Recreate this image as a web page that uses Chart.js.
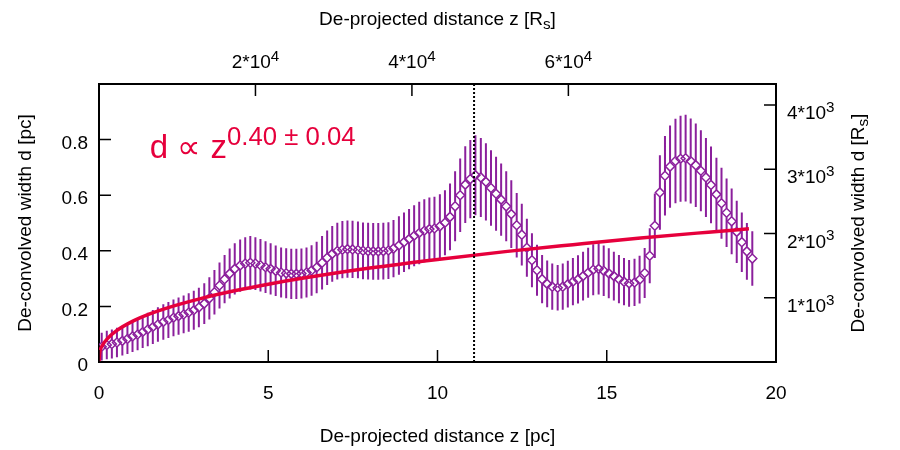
<!DOCTYPE html>
<html>
<head>
<meta charset="utf-8">
<script src="https://cdn.jsdelivr.net/npm/chart.js@4.4.0/dist/chart.umd.min.js"></script>
<style>
  html, body { margin: 0; padding: 0; background: #fff; }
  #wrap { width: 900px; height: 450px; }
</style>
</head>
<body>
<div id="wrap"><canvas id="chart"></canvas></div>
<script>
// ── Data ───────────────────────────────────────────────────
// de-projected distance z [pc]
const zPc = [
  0.08, 0.23, 0.38, 0.53, 0.69, 0.84, 0.99, 1.14, 1.29, 1.44,
  1.59, 1.74, 1.90, 2.05, 2.20, 2.35, 2.50, 2.65, 2.80, 2.95,
  3.11, 3.26, 3.41, 3.56, 3.71, 3.86, 4.01, 4.17, 4.32, 4.47,
  4.62, 4.77, 4.92, 5.07, 5.22, 5.38, 5.53, 5.68, 5.83, 5.98,
  6.13, 6.28, 6.43, 6.59, 6.74, 6.89, 7.04, 7.19, 7.34, 7.49,
  7.65, 7.80, 7.95, 8.10, 8.25, 8.40, 8.55, 8.70, 8.86, 9.01,
  9.16, 9.31, 9.46, 9.61, 9.76, 9.91, 10.07, 10.22, 10.37, 10.52,
  10.67, 10.82, 10.97, 11.12, 11.28, 11.43, 11.58, 11.73, 11.88, 12.03,
  12.18, 12.34, 12.49, 12.64, 12.79, 12.94, 13.09, 13.24, 13.39, 13.55,
  13.70, 13.85, 14.00, 14.15, 14.30, 14.45, 14.60, 14.76, 14.91, 15.06,
  15.21, 15.36, 15.51, 15.66, 15.82, 15.97, 16.12, 16.27, 16.42, 16.57,
  16.72, 16.87, 17.03, 17.18, 17.33, 17.48, 17.63, 17.78, 17.93, 18.08,
  18.24, 18.39, 18.54, 18.69, 18.84, 18.99, 19.14, 19.30
];
// de-convolved width d [pc]
const dPc = [
  0.055, 0.061, 0.065, 0.070, 0.076, 0.083, 0.092, 0.099, 0.108, 0.117,
  0.126, 0.135, 0.144, 0.151, 0.159, 0.165, 0.171, 0.178, 0.186, 0.196,
  0.210, 0.229, 0.251, 0.275, 0.298, 0.318, 0.335, 0.347, 0.354, 0.357,
  0.354, 0.348, 0.341, 0.335, 0.328, 0.322, 0.319, 0.317, 0.317, 0.318,
  0.322, 0.329, 0.340, 0.357, 0.375, 0.389, 0.399, 0.404, 0.406, 0.405,
  0.403, 0.400, 0.399, 0.398, 0.398, 0.399, 0.401, 0.408, 0.419, 0.431,
  0.442, 0.454, 0.464, 0.472, 0.478, 0.480, 0.488, 0.501, 0.522, 0.560,
  0.600, 0.638, 0.658, 0.672, 0.664, 0.648, 0.626, 0.605, 0.584, 0.560,
  0.532, 0.492, 0.458, 0.411, 0.366, 0.330, 0.298, 0.281, 0.271, 0.267,
  0.271, 0.280, 0.289, 0.297, 0.309, 0.321, 0.332, 0.335, 0.328, 0.319,
  0.309, 0.298, 0.289, 0.283, 0.286, 0.296, 0.320, 0.382, 0.490, 0.610,
  0.670, 0.703, 0.723, 0.731, 0.733, 0.723, 0.708, 0.688, 0.664, 0.637,
  0.603, 0.571, 0.537, 0.506, 0.468, 0.431, 0.398, 0.372
];
// error bar half-length [pc]
const dErr = [
  0.050, 0.051, 0.052, 0.053, 0.053, 0.054, 0.056, 0.057, 0.058, 0.060,
  0.061, 0.062, 0.064, 0.065, 0.066, 0.067, 0.068, 0.069, 0.070, 0.071,
  0.073, 0.076, 0.080, 0.083, 0.087, 0.090, 0.092, 0.094, 0.095, 0.096,
  0.095, 0.094, 0.093, 0.092, 0.091, 0.090, 0.090, 0.090, 0.090, 0.090,
  0.090, 0.091, 0.093, 0.096, 0.098, 0.100, 0.102, 0.103, 0.103, 0.103,
  0.102, 0.102, 0.102, 0.102, 0.102, 0.102, 0.102, 0.103, 0.105, 0.107,
  0.108, 0.110, 0.112, 0.113, 0.114, 0.114, 0.115, 0.117, 0.120, 0.126,
  0.132, 0.138, 0.141, 0.144, 0.142, 0.139, 0.136, 0.133, 0.130, 0.126,
  0.122, 0.116, 0.111, 0.104, 0.097, 0.092, 0.087, 0.084, 0.083, 0.082,
  0.083, 0.084, 0.085, 0.087, 0.088, 0.090, 0.092, 0.092, 0.091, 0.090,
  0.088, 0.087, 0.085, 0.084, 0.085, 0.086, 0.090, 0.099, 0.116, 0.134,
  0.143, 0.148, 0.152, 0.155, 0.156, 0.153, 0.150, 0.146, 0.142, 0.138,
  0.132, 0.128, 0.123, 0.118, 0.112, 0.107, 0.102, 0.098
];

// power-law fit curve
const fitZ = [0, 0.02, 0.1, 0.25, 0.5, 1, 1.5, 2, 3, 4, 5, 6, 8, 10, 12, 14, 16, 18, 19.2];
const fitD = [0, 0.031, 0.059, 0.084, 0.111, 0.147, 0.173, 0.194, 0.228, 0.256,
              0.280, 0.301, 0.338, 0.369, 0.397, 0.422, 0.446, 0.467, 0.479];

const Z_MARK = 11.08;          // dotted vertical line [pc]
const RS_PER_PC = 4327;        // pc -> Schwarzschild radii

// ticks
const xTicks = [0, 5, 10, 15, 20];
const xTickLabels = ['0', '5', '10', '15', '20'];
const yTicks = [0, 0.2, 0.4, 0.6, 0.8];
const yTickLabels = ['0', '0.2', '0.4', '0.6', '0.8'];
const topTicks = [20000, 40000, 60000];
const topTickLabels = [['2*10', '4'], ['4*10', '4'], ['6*10', '4']];
const rightTicks = [1000, 2000, 3000, 4000];
const rightTickLabels = [['1*10', '3'], ['2*10', '3'], ['3*10', '3'], ['4*10', '3']];

const fitBase = 'd \u221D z';
const fitExp = '0.40 \u00B1 0.04';

// ── Style ──────────────────────────────────────────────────
const RED = '#e6003c';
const PURPLE = '#8b1f9c';
const FONT = '"Liberation Sans", Arial, sans-serif';
const FS = 19;
const TICK = 12;
const PT = 4.5;

// text with optional super/subscript parts: [text, 'sup'|'sub'|undefined]
function richText(ctx, parts, x, y, size, align, rot, supRatio = 0.8, raise = 0.38) {
    ctx.save();
    ctx.translate(x, y);
    if (rot) ctx.rotate(rot);
    const sizes = parts.map(p => p[1] ? size * supRatio : size);
    const widths = parts.map((p, i) => {
        ctx.font = sizes[i] + 'px ' + FONT;
        return ctx.measureText(p[0]).width;
    });
    const total = widths.reduce((a, b) => a + b, 0);
    let cx = align === 'center' ? -total / 2 : align === 'right' ? -total : 0;
    ctx.textAlign = 'left';
    ctx.textBaseline = 'alphabetic';
    parts.forEach((p, i) => {
        ctx.font = sizes[i] + 'px ' + FONT;
        const dy = p[1] === 'sup' ? -size * raise : p[1] === 'sub' ? size * 0.22 : 0;
        ctx.fillText(p[0], cx, dy);
        cx += widths[i];
    });
    ctx.restore();
}

// error bars, drawn just before the diamonds (gap inside the open marker)
const errorBars = {
    id: 'errorBars',
    beforeDatasetDraw(chart, args) {
        if (args.index !== 0) return;
        const { ctx, scales: { x, y } } = chart;
        ctx.save();
        ctx.strokeStyle = PURPLE;
        ctx.lineWidth = 2;
        ctx.beginPath();
        zPc.forEach((z, i) => {
            const px = x.getPixelForValue(z);
            const pc = y.getPixelForValue(dPc[i]);
            const hi = y.getPixelForValue(dPc[i] + dErr[i]);
            const lo = y.getPixelForValue(dPc[i] - dErr[i]);
            ctx.moveTo(px, hi); ctx.lineTo(px, pc - PT);
            ctx.moveTo(px, pc + PT); ctx.lineTo(px, lo);
        });
        ctx.stroke();
        ctx.restore();
    },
};

// inward tick marks + texts gnuplot style
const decorations = {
    id: 'decorations',
    afterDraw(chart) {
        const { ctx, chartArea: a, scales } = chart;
        ctx.save();
        ctx.strokeStyle = '#000';
        ctx.lineWidth = 1.5;
        ctx.beginPath();
        xTicks.forEach(v => { const p = scales.x.getPixelForValue(v); ctx.moveTo(p, a.bottom); ctx.lineTo(p, a.bottom - TICK); });
        topTicks.forEach(v => { const p = scales.x2.getPixelForValue(v); ctx.moveTo(p, a.top); ctx.lineTo(p, a.top + TICK); });
        yTicks.forEach(v => { const p = scales.y.getPixelForValue(v); ctx.moveTo(a.left, p); ctx.lineTo(a.left + TICK, p); });
        rightTicks.forEach(v => { const p = scales.y2.getPixelForValue(v); ctx.moveTo(a.right, p); ctx.lineTo(a.right - TICK, p); });
        ctx.stroke();

        ctx.fillStyle = '#000';
        const cx = (a.left + a.right) / 2;
        const cy = (a.top + a.bottom) / 2;
        richText(ctx, [['De-projected distance z [R'], ['s', 'sub'], [']']], cx, 25, FS, 'center');
        richText(ctx, [['De-projected distance z [pc]']], cx, 442, FS, 'center');
        richText(ctx, [['De-convolved width d [pc]']], 31, cy, FS, 'center', -Math.PI / 2);
        richText(ctx, [['De-convolved width d [R'], ['s', 'sub'], [']']], 864, cy, FS, 'center', -Math.PI / 2);

        topTicks.forEach((v, i) => {
            const p = scales.x2.getPixelForValue(v);
            richText(ctx, [[topTickLabels[i][0]], [topTickLabels[i][1], 'sup']], p, 68, FS, 'center');
        });
        rightTicks.forEach((v, i) => {
            const p = scales.y2.getPixelForValue(v);
            richText(ctx, [[rightTickLabels[i][0]], [rightTickLabels[i][1], 'sup']], a.right + 11, p + 14, FS, 'left');
        });

        ctx.fillStyle = RED;
        richText(ctx, [[fitBase], [fitExp, 'sup']],
            scales.x.getPixelForValue(1.5), scales.y.getPixelForValue(0.735), 33, 'left', 0, 0.78, 0.37);
        ctx.restore();
    },
};

const border = { display: true, color: '#000', width: 2 };
const noGrid = { display: false, drawTicks: false };
const tickFont = { family: FONT, size: FS };

new Chart(document.getElementById('chart'), {
    type: 'line',
    data: {
        datasets: [
            {
                label: 'width',
                data: zPc.map((z, i) => ({ x: z, y: dPc[i] })),
                showLine: false,
                pointStyle: 'rectRot',
                pointRadius: PT,
                pointBorderWidth: 1.5,
                pointBorderColor: PURPLE,
                pointBackgroundColor: 'rgba(0,0,0,0)',
                borderColor: PURPLE,
                order: 2,
            },
            {
                label: 'fit',
                data: fitZ.map((z, i) => ({ x: z, y: fitD[i] })),
                borderColor: RED,
                borderWidth: 3.5,
                pointRadius: 0,
                cubicInterpolationMode: 'monotone',
                order: 1,
            },
            {
                label: 'mark',
                data: [{ x: Z_MARK, y: 0 }, { x: Z_MARK, y: 1 }],
                borderColor: '#000',
                borderWidth: 2,
                borderDash: [2, 2],
                pointRadius: 0,
                order: 0,
            },
        ],
    },
    options: {
        responsive: true,
        maintainAspectRatio: false,
        animation: false,
        events: [],
        layout: { padding: 0 },
        plugins: { legend: { display: false }, tooltip: { enabled: false } },
        scales: {
            x: {
                type: 'linear', position: 'bottom', min: 0, max: 20,
                afterBuildTicks: s => { s.ticks = xTicks.map(v => ({ value: v })); },
                afterFit: s => { s.height = 88; },
                ticks: { padding: 20, color: '#000', font: tickFont, autoSkip: false, maxRotation: 0,
                         callback: (v, i) => xTickLabels[i] },
                grid: noGrid, border,
            },
            x2: {
                type: 'linear', position: 'top', min: 0, max: 20 * RS_PER_PC,
                afterBuildTicks: s => { s.ticks = topTicks.map(v => ({ value: v })); },
                afterFit: s => { s.height = 84; },
                ticks: { display: false },
                grid: noGrid, border,
            },
            y: {
                type: 'linear', position: 'left', min: 0, max: 1,
                afterBuildTicks: s => { s.ticks = yTicks.map(v => ({ value: v })); },
                afterFit: s => { s.width = 99; },
                ticks: { padding: 11, labelOffset: 4, color: '#000', font: tickFont,
                         callback: (v, i) => yTickLabels[i] },
                grid: noGrid, border,
            },
            y2: {
                type: 'linear', position: 'right', min: 0, max: RS_PER_PC,
                afterBuildTicks: s => { s.ticks = rightTicks.map(v => ({ value: v })); },
                afterFit: s => { s.width = 124; },
                ticks: { display: false },
                grid: noGrid, border,
            },
        },
    },
    plugins: [errorBars, decorations],
});
</script>
</body>
</html>
